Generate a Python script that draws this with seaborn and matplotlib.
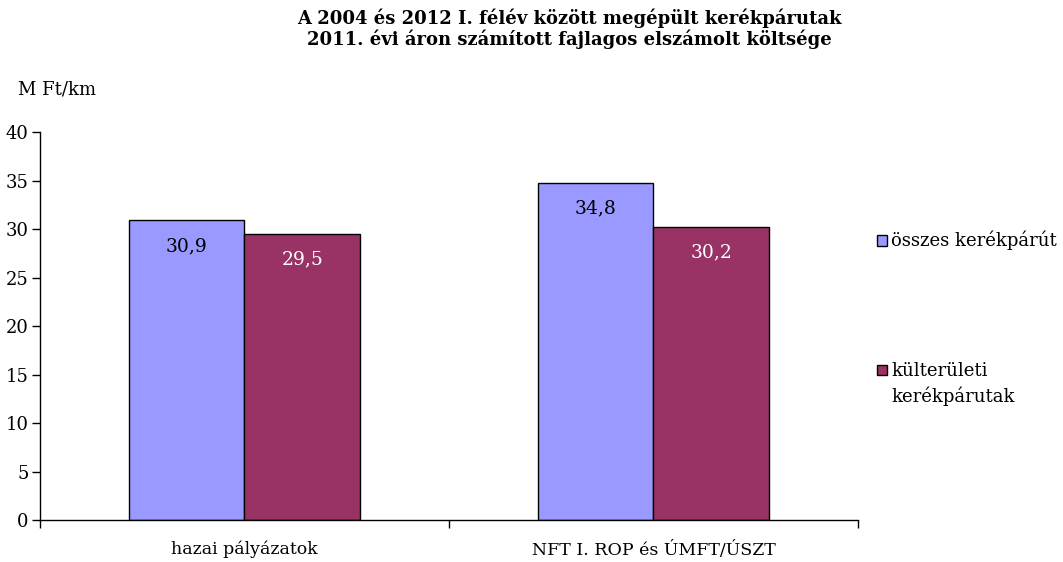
import pandas as pd
import matplotlib.pyplot as plt
import seaborn as sns

sns.set_theme(style="white")
plt.rcParams["font.family"] = ["DejaVu Serif"]
plt.rcParams["text.color"] = "black"
plt.rcParams["xtick.color"] = "black"
plt.rcParams["ytick.color"] = "black"

categories = ["hazai pályázatok", "NFT I. ROP és ÚMFT/ÚSZT"]
series_names = ["összes kerékpárút", "külterületi"]
osszes = [30.9, 34.8]
kulteruleti = [29.5, 30.2]
colors = ["#9999FF", "#993366"]

df = pd.DataFrame({
    "kategoria": categories * 2,
    "sorozat": [series_names[0]] * 2 + [series_names[1]] * 2,
    "ertek": osszes + kulteruleti,
})

fig = plt.figure(figsize=(10.63, 5.62), dpi=100)
ax = fig.add_axes([0.0376, 0.0747, 0.7695, 0.6903])

sns.barplot(data=df, x="kategoria", y="ertek", hue="sorozat", palette=colors,
            width=0.565, edgecolor="black", linewidth=1, saturation=1, ax=ax)

for cont, tc in zip(ax.containers, ["black", "white"]):
    ax.bar_label(cont, labels=[f"{v:.1f}".replace(".", ",") for v in cont.datavalues],
                 label_type="edge", padding=-25, color=tc, fontsize=13.5)

ax.set_ylim(0, 40)
ax.set_xlim(-0.5, 1.5)
ax.set_yticks(range(0, 41, 5))
ax.set_xlabel("")
ax.set_ylabel("")
ax.set_xticks([-0.5, 0.5, 1.5], minor=True)
ax.tick_params(axis="x", which="major", length=0, pad=15, labelsize=12.5)
ax.tick_params(axis="x", which="minor", length=6, color="black", width=1, direction="out", bottom=True)
ax.tick_params(axis="y", length=6, color="black", width=1, direction="out", left=True, labelsize=13, pad=2)
for s in ["top", "right"]:
    ax.spines[s].set_visible(False)
for s in ["left", "bottom"]:
    ax.spines[s].set_color("black")
    ax.spines[s].set_linewidth(1)

handles, labels = ax.get_legend_handles_labels()
leg = ax.legend(handles, labels, loc="upper left", bbox_to_anchor=(1.003, 0.787), frameon=False,
                fontsize=13, handlelength=0.55, handleheight=0.55, handletextpad=0.25,
                labelspacing=6.2)
for h in leg.legend_handles:
    h.set_edgecolor("black")

fig.text(0.536, 0.985, "A 2004 és 2012 I. félév között megépült kerékpárutak\n"
         "2011. évi áron számított fajlagos elszámolt költsége",
         ha="center", va="top", fontsize=13, fontweight="bold", linespacing=1.1)
fig.text(0.017, 0.84, "M Ft/km", fontsize=13, ha="left", va="center")

# second line of the legend label, placed under the first line
fig.canvas.draw()
bb = leg.get_texts()[1].get_window_extent()
x0, y0 = fig.transFigure.inverted().transform((bb.x0, bb.y0 - 6))
fig.text(x0, y0, "kerékpárutak", fontsize=13, ha="left", va="top")

fig.savefig("out.png", dpi=100)
